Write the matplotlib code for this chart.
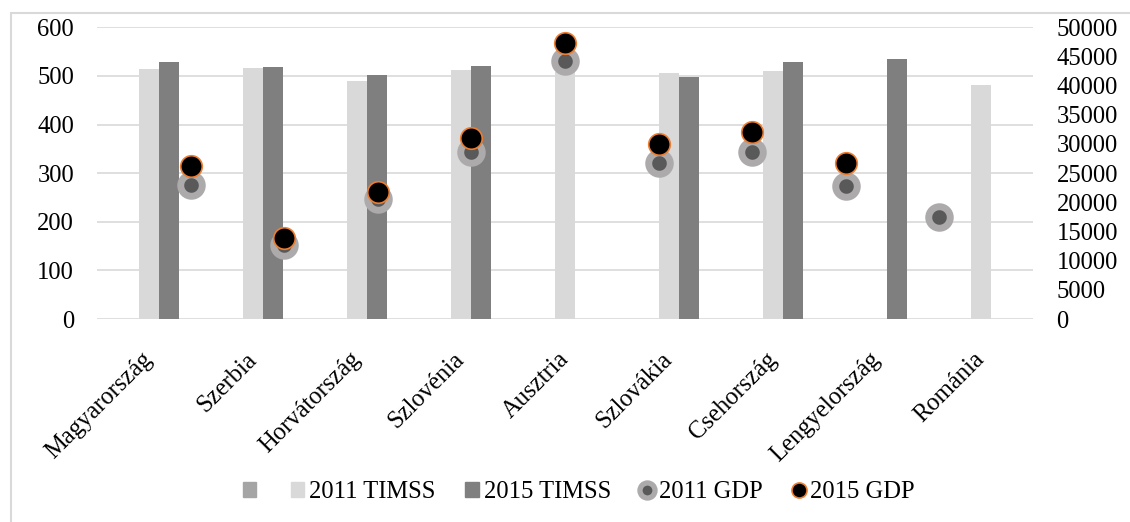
import numpy as np
import matplotlib.pyplot as plt
from matplotlib.patches import Rectangle
from matplotlib.lines import Line2D
import matplotlib.transforms as mtransforms

plt.rcParams['font.family'] = ['Liberation Serif', 'DejaVu Serif']

countries = ['Magyarország', 'Szerbia', 'Horvátország', 'Szlovénia', 'Ausztria',
             'Szlovákia', 'Csehország', 'Lengyelország', 'Románia']
timss_2011 = [515, 516, 490, 513, 508, 507, 511, np.nan, 482]
timss_2015 = [529, 518, 502, 520, np.nan, 498, 528, 535, np.nan]
gdp_2011 = [22900, 12700, 20500, 28700, 44300, 26800, 28600, 22800, 17400]
gdp_2015 = [26300, 13800, 21700, 31000, 47300, 30000, 32100, 26700, np.nan]
empty_series = [np.nan] * len(countries)

W, H = 1130, 522
fig = plt.figure(figsize=(W / 100, H / 100), dpi=100)

# chart area border (light grey, runs off the right/bottom edge)
fig.patches.append(Rectangle((11 / W, -0.2), 1.2, 1 - 13 / H + 0.2,
                             transform=fig.transFigure, fill=False,
                             edgecolor='#d9d9d9', linewidth=1.5))

pos = [97 / W, 1 - 319 / H, (1033 - 97) / W, (319 - 27.3) / H]
ax = fig.add_axes(pos)

x = np.arange(len(countries))
bw = 0.192
ax.bar(x - bw, empty_series, bw, color='#a5a5a5')
ax.bar(x, timss_2011, bw, color='#d9d9d9')
ax.bar(x + bw, timss_2015, bw, color='#7f7f7f')

ax.set_xlim(-0.5, len(countries) - 0.5)
ax.set_ylim(0, 600)
ax.set_yticks(range(0, 601, 100))
ax.yaxis.grid(True, color='#d9d9d9', linewidth=1.2)
ax.set_axisbelow(True)
for s in ax.spines.values():
    s.set_visible(False)
ax.tick_params(axis='y', length=0, pad=16.5, labelsize=17.7)
ax.tick_params(axis='x', length=0, pad=21, labelsize=17.7)
ax.set_xticks(x)
ax.set_xticklabels(countries, rotation=45, ha='right', va='top')
shift = mtransforms.ScaledTranslation(8 / 100, 0, fig.dpi_scale_trans)
for lab in ax.get_xticklabels():
    lab.set_transform(lab.get_transform() + shift)

# GDP on its own axes: x from 0 to 10, points at 1..9
ax2 = fig.add_axes(pos, facecolor='none')
xs = np.arange(1, len(countries) + 1)
ax2.plot(xs, gdp_2011, linestyle='none', marker='o', markersize=15.5,
         markerfacecolor='#595959', markeredgecolor='#acaaaa', markeredgewidth=5.0)
ax2.plot(xs, gdp_2015, linestyle='none', marker='o', markersize=15.5,
         markerfacecolor='black', markeredgecolor='#ed7d31', markeredgewidth=1.2)
ax2.set_xlim(0, 10)
ax2.set_ylim(0, 50000)
ax2.set_yticks(range(0, 50001, 5000))
ax2.set_xticks([])
ax2.yaxis.tick_right()
ax2.tick_params(axis='y', length=0, pad=17, labelsize=17.7)
for s in ax2.spines.values():
    s.set_visible(False)

handles = [
    Rectangle((0, 0), 1, 1, color='#a5a5a5'),
    Rectangle((0, 0), 1, 1, color='#d9d9d9'),
    Rectangle((0, 0), 1, 1, color='#7f7f7f'),
    Line2D([], [], linestyle='none', marker='o', markersize=15.5 * 0.7,
           markerfacecolor='#595959', markeredgecolor='#acaaaa', markeredgewidth=3.8),
    Line2D([], [], linestyle='none', marker='o', markersize=15.5 * 0.7,
           markerfacecolor='black', markeredgecolor='#ed7d31', markeredgewidth=1.2),
]
labels = ['', '2011 TIMSS', '2015 TIMSS', '2011 GDP', '2015 GDP']
fig.legend(handles, labels, loc='center', bbox_to_anchor=(579 / W, 1 - 492 / H),
           ncol=5, frameon=False, fontsize=17.7, handlelength=0.55, handleheight=0.55,
           handletextpad=0.2, columnspacing=1.2, borderpad=0)

fig.savefig('out.png', dpi=100)
